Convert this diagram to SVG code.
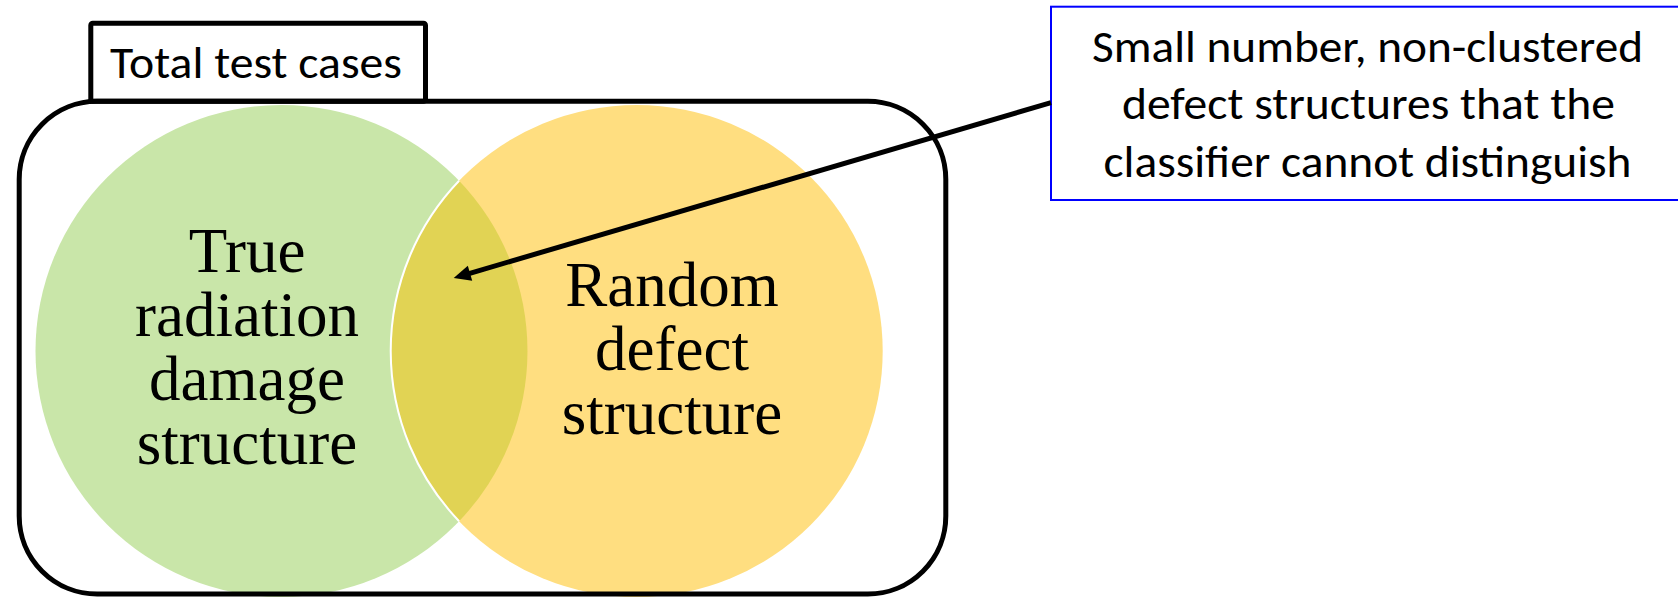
<svg xmlns="http://www.w3.org/2000/svg" width="1678" height="597" viewBox="0 0 1678 597">
  <style>
    .frame { fill: none; stroke: #000; stroke-width: 5; }
    .serif { font-family: "Liberation Serif", "Times New Roman", serif; font-size: 63px; fill: #000; text-anchor: middle; }
    .sans { font-family: Carlito, Calibri, Lato, "Liberation Sans", sans-serif; font-size: 45px; fill: #000; text-anchor: middle; }
    .link { fill: none; stroke: #000; stroke-width: 5; }
  </style>
  <defs>
    <marker id="head" markerUnits="userSpaceOnUse" markerWidth="24" markerHeight="20" viewBox="0 -10 24 20" refX="2" refY="0" orient="auto" overflow="visible">
      <path d="M0,-7.8 L17,0 L0,7.8 z" fill="#000"/>
    </marker>
  </defs>
  <rect x="0" y="0" width="1678" height="597" fill="#fff"/>

  <!-- Set A: true radiation damage -->
  <g id="set-true">
    <circle cx="281.5" cy="351" r="246" fill="#C9E6A9"/>
  </g>

  <!-- Set B: random defects -->
  <g id="set-random">
    <circle cx="636.7" cy="351" r="246" fill="#FFDE80"/>
  </g>

  <!-- Intersection of both sets -->
  <g id="overlap">
    <path d="M459.1,180.8 A246,246 0 0 1 459.1,521.2 A246,246 0 0 1 459.1,180.8 Z" fill="#E1D354"/>
    <path d="M459.1,180.8 A246,246 0 0 0 459.1,521.2" fill="none" stroke="#fff" stroke-width="2"/>
  </g>

  <g id="set-true-label">
    <text class="serif" x="247" y="272">True</text>
    <text class="serif" x="247" y="336">radiation</text>
    <text class="serif" x="247" y="400">damage</text>
    <text class="serif" x="247" y="464">structure</text>
  </g>

  <g id="set-random-label">
    <text class="serif" x="672" y="306">Random</text>
    <text class="serif" x="672" y="370">defect</text>
    <text class="serif" x="672" y="434">structure</text>
  </g>

  <!-- Universe: all test cases -->
  <g id="universe">
    <rect x="90.8" y="23.3" width="334.7" height="78" rx="2" fill="#fff" stroke="#000" stroke-width="5"/>
    <text class="sans" x="256" y="78" textLength="292" lengthAdjust="spacingAndGlyphs">Total test cases</text>
    <rect class="frame" x="19.2" y="101.3" width="926.6" height="492.7" rx="78" ry="78"/>
  </g>

  <!-- Annotation box -->
  <g id="note">
    <rect x="1051" y="6.7" width="640" height="193.3" fill="#fff" stroke="#0000FF" stroke-width="2"/>
    <text class="sans" x="1367.5" y="62" textLength="551" lengthAdjust="spacingAndGlyphs">Small number, non-clustered</text>
    <text class="sans" x="1368.4" y="119" textLength="493" lengthAdjust="spacingAndGlyphs">defect structures that the</text>
    <text class="sans" x="1367.5" y="177" textLength="528" lengthAdjust="spacingAndGlyphs">classifier cannot distinguish</text>
  </g>

  <g id="connectors">
    <line class="link" x1="1051" y1="102.7" x2="468.1" y2="273.8" marker-end="url(#head)"/>
  </g>
</svg>
